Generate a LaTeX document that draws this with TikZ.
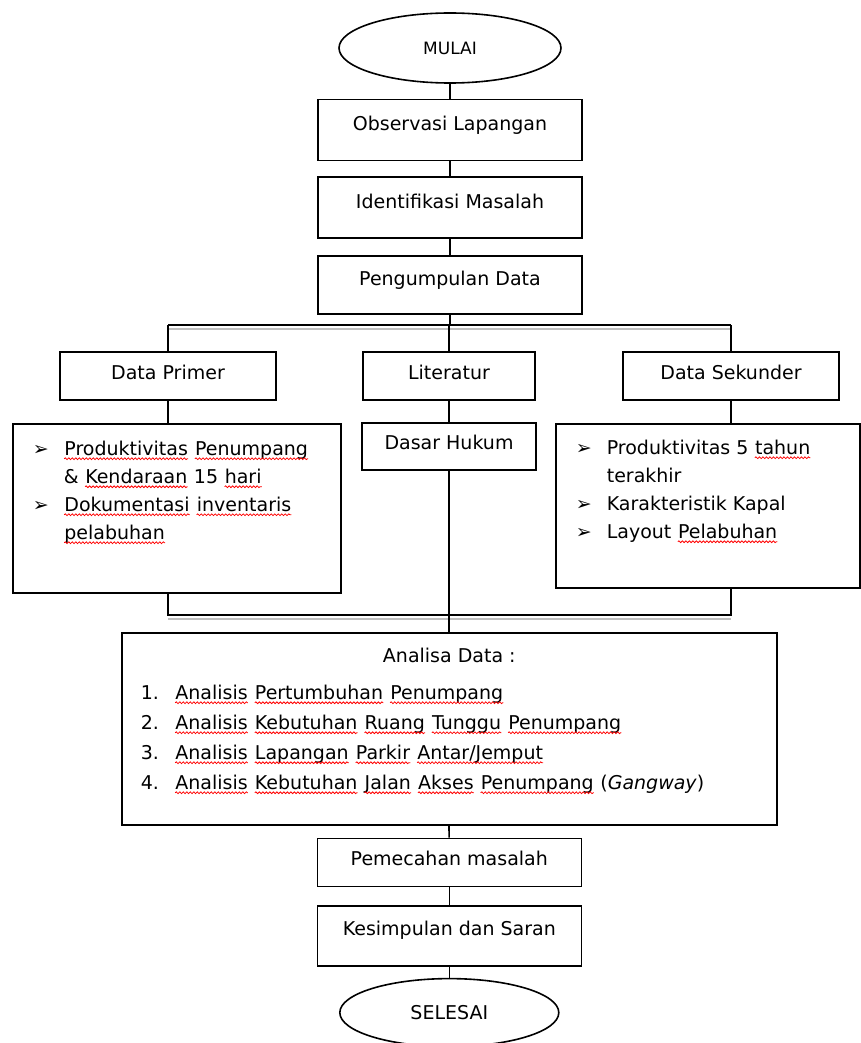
\documentclass[tikz,border=0pt]{standalone}
\usepackage{fontspec}
\setmainfont{DejaVu Sans}
\newfontfamily\arrowfont{DejaVu Sans Bold}
\usetikzlibrary{positioning,shapes.geometric,decorations.pathmorphing}

% red spell-check waves
\newcommand{\redwave}[1]{\tikz[baseline=(w.base)]{\node[inner sep=0pt] (w) {#1};
  \draw[red, line width=0.8pt, decorate, decoration={snake, amplitude=0.9pt, segment length=3.5pt}]
    ([yshift=-3.5pt]w.base west) -- ([yshift=-3.5pt]w.base east);}}
\newcommand{\bul}{\makebox[31pt][l]{\arrowfont\char"27A2}}
\newcommand{\itemno}[1]{\makebox[34pt][l]{#1}}

\begin{document}
\begin{tikzpicture}[x=1pt, y=-1pt,
  box/.style={draw, line width=1.6pt, inner sep=0pt, minimum width=264pt,
    text height=31pt, text depth=30pt, font=\fontsize{19}{24}\selectfont},
  smallbox/.style={box, minimum width=216pt, text height=28pt, text depth=20pt},
  oval/.style={draw, ellipse, line width=1.6pt, inner sep=0pt,
    minimum width=222pt, minimum height=70pt},
  listbox/.style={draw, line width=1.6pt, inner sep=0pt, anchor=north west},
  link/.style={line width=1.6pt},
  shade/.style={line width=1.6pt, black!25}]

  \useasboundingbox (0,0) rectangle (861,1043);

  \node (mulai) [oval, font=\fontsize{17}{20}\selectfont] at (450,48) {MULAI};
  \node (obs) [box, below=15pt of mulai] {Observasi Lapangan};
  \node (ident) [box, below=15pt of obs] {Identifikasi Masalah};
  \node (peng) [box, below=16pt of ident, text height=30pt, text depth=28pt] {Pengumpulan Data};

  \node (dprim) [smallbox, anchor=north] at (168,351) {Data Primer};
  \node (lit) [smallbox, anchor=north, minimum width=172pt] at (449,351) {Literatur};
  \node (dsek) [smallbox, anchor=north] at (731,351) {Data Sekunder};

  \node (prim) [listbox, font=\fontsize{19}{28}\selectfont] at (12,423)
    {\parbox[t][169pt][t]{328pt}{\vspace*{17pt}\raggedright\leftskip=20pt
      \bul\redwave{Produktivitas} \redwave{Penumpang}\\
      \hspace*{31pt}\& \redwave{Kendaraan} 15 \redwave{hari}\\
      \bul\redwave{Dokumentasi} \redwave{inventaris}\\
      \hspace*{31pt}\redwave{pelabuhan}}};
  \node (hukum) [smallbox, anchor=north, minimum width=174pt, text height=27pt] at (449,422) {Dasar Hukum};
  \node (sek) [listbox, font=\fontsize{19}{28}\selectfont] at (555,423)
    {\parbox[t][164pt][t]{304pt}{\vspace*{16pt}\raggedright\leftskip=20pt
      \bul Produktivitas 5 \redwave{tahun}\\
      \hspace*{31pt}terakhir\\
      \bul Karakteristik Kapal\\
      \bul Layout \redwave{Pelabuhan}}};

  \node (analisa) [listbox, font=\fontsize{19}{30}\selectfont] at (121,632)
    {\parbox[t][192pt][t]{655pt}{\vspace*{15pt}\centering Analisa Data :\par
      \vspace{7pt}\raggedright\leftskip=19pt
      \itemno{1.}\redwave{Analisis} \redwave{Pertumbuhan} \redwave{Penumpang}\\
      \itemno{2.}\redwave{Analisis} \redwave{Kebutuhan} \redwave{Ruang} \redwave{Tunggu} \redwave{Penumpang}\\
      \itemno{3.}\redwave{Analisis} \redwave{Lapangan} \redwave{Parkir} \redwave{Antar/Jemput}\\
      \itemno{4.}\redwave{Analisis} \redwave{Kebutuhan} \redwave{Jalan} \redwave{Akses} \redwave{Penumpang} (\textit{Gangway})}};

  \node (pem) [box, below=12pt of analisa.south, anchor=north, text height=27pt, text depth=21pt] {Pemecahan masalah};
  \node (kes) [box, below=18pt of pem, text height=29pt, text depth=31pt] {Kesimpulan dan Saran};
  \node (selesai) [oval, below=11pt of kes, minimum width=219pt, minimum height=68pt,
    font=\fontsize{19}{24}\selectfont] {SELESAI};

  \coordinate (topbus) at (0,325);
  \coordinate (topshade) at (0,329);
  \coordinate (botbus) at (0,615);
  \coordinate (botshade) at (0,619);

  \draw[shade] (dprim |- topshade) -- (dsek |- topshade);
  \draw[shade] (dprim |- botshade) -- (dsek |- botshade);

  \draw[link] (mulai) -- (obs);
  \draw[link] (obs) -- (ident);
  \draw[link] (ident) -- (peng);
  \draw[link] (peng) -- (peng |- topbus);
  \draw[link] (dprim |- topbus) -- (dsek |- topbus);
  \draw[link] (dprim |- topbus) -- (dprim);
  \draw[link] (lit |- topbus) -- (lit);
  \draw[link] (dsek |- topbus) -- (dsek);
  \draw[link] (dprim) -- (dprim |- prim.north);
  \draw[link] (lit) -- (hukum);
  \draw[link] (dsek) -- (dsek |- sek.north);
  \draw[link] (dprim |- prim.south) -- (dprim |- botbus) -- (dsek |- botbus) -- (dsek |- sek.south);
  \draw[link] (hukum) -- (hukum |- analisa.north);
  \draw[link] (hukum |- analisa.south) -- (pem);
  \draw[link] (pem) -- (kes);
  \draw[link] (kes) -- (selesai);

\end{tikzpicture}
\end{document}
